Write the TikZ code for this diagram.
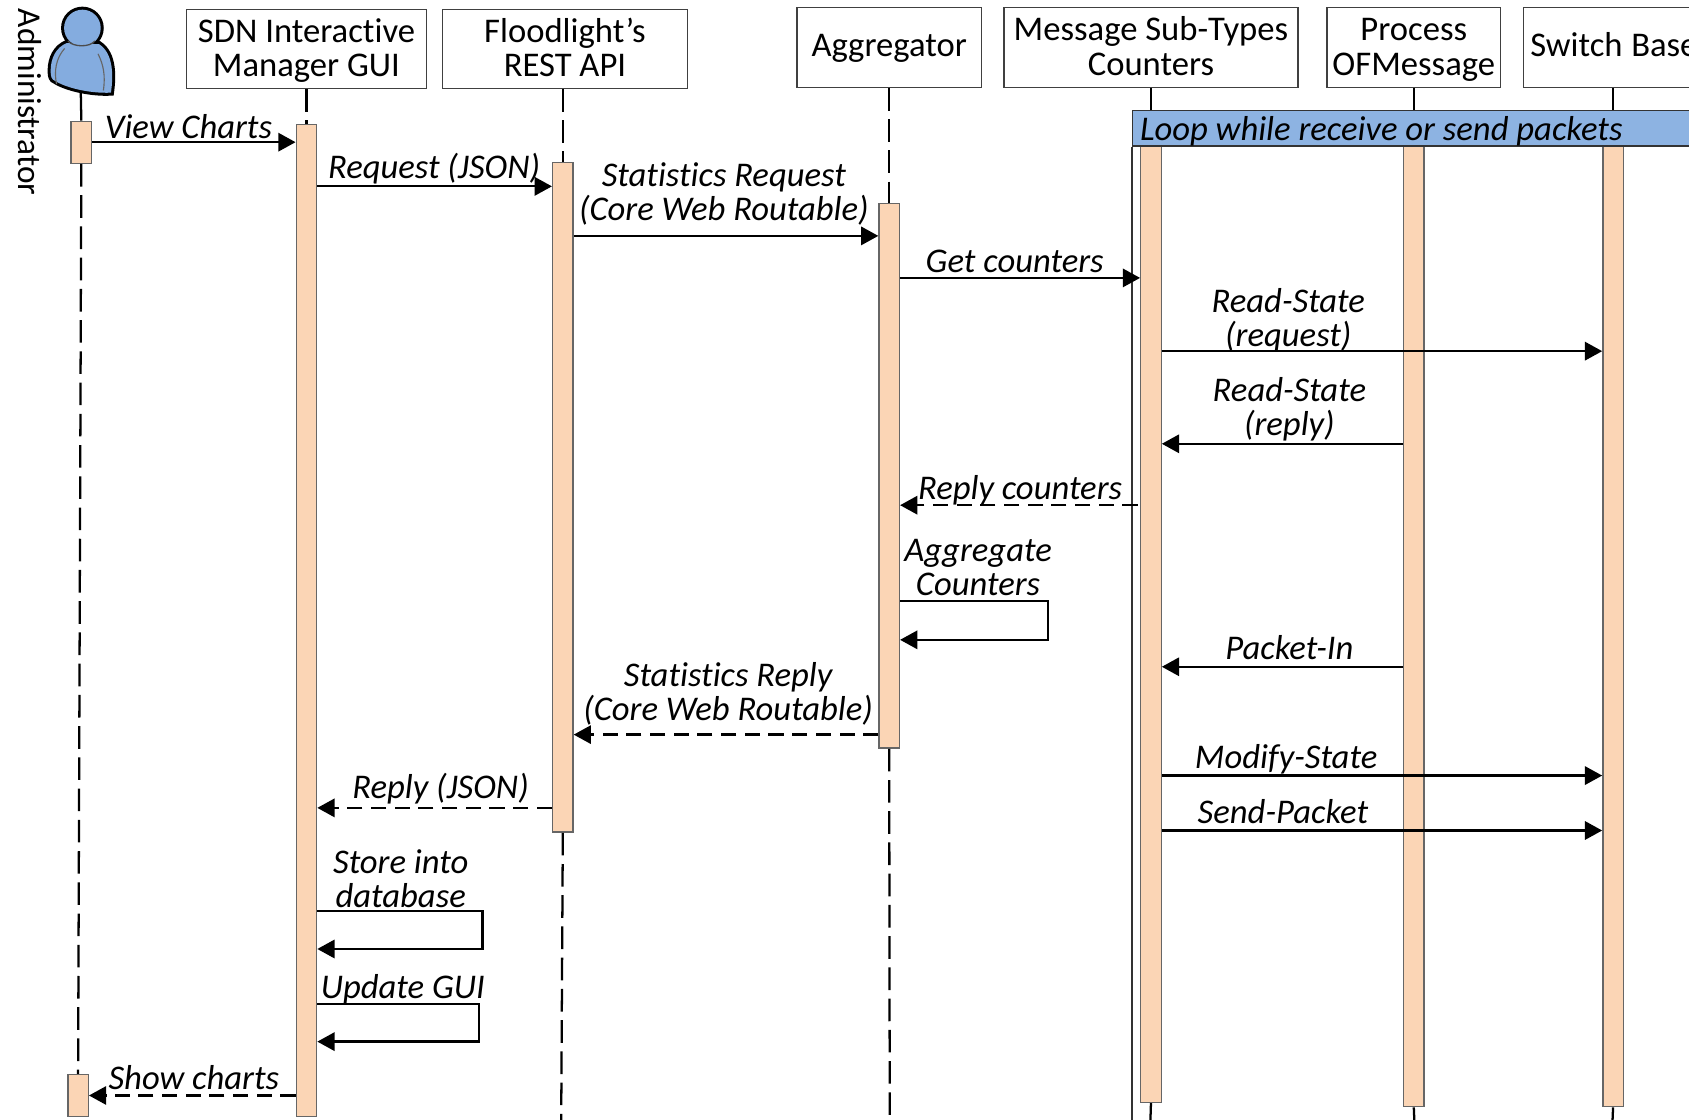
\documentclass[tikz,border=0pt]{standalone}
\usepackage{fontspec}
\setmainfont{Carlito}[Ligatures=NoCommon]
\usepackage{xcolor}
\usetikzlibrary{calc, positioning, arrows.meta, shapes.geometric}
\definecolor{barfill}{HTML}{FBD5B5}
\definecolor{loopfill}{HTML}{8DB3E2}
\definecolor{actorfill}{HTML}{84ACDF}
\newcommand{\hstrut}{\rule[-0.24em]{0pt}{0.98em}}
\newcommand{\hstruttop}{\rule[-0.24em]{0pt}{1.08em}}
\tikzset{
    header/.style={rectangle, draw=black!75, line width=0.7pt, fill=white, align=center, font=\fontsize{18.3}{18.2}\selectfont, inner sep=0pt},
    bar/.style={rectangle, draw=black!60, line width=0.7pt, fill=barfill, minimum width=0.38cm, inner sep=0pt, anchor=north},
    lifeline/.style={line width=1.2pt, dash pattern=on 0.42cm off 0.16cm},
    msg/.style={-{Triangle[length=0.32cm, width=0.34cm]}, line width=1.2pt},
    reply/.style={msg, dash pattern=on 0.28cm off 0.16cm},
    txt/.style={align=center, font=\fontsize{18.3}{18}\itshape\selectfont, inner sep=0pt}
}

\begin{document}
\begin{tikzpicture}[x=0.02cm, y=-0.02cm]
    \useasboundingbox (0,0) rectangle (1568,1039.7);
    \fill[white] (0,0) rectangle (1568,1039.7);

    % Headers
    \node[header, minimum width=4.46cm, minimum height=1.46cm] (gui) at (284.5,45.5) {\hstruttop SDN Interactive\\\hstrut Manager GUI};
    \node[header, minimum width=4.54cm, minimum height=1.46cm] (rest) at (524.5,45.5) {\hstruttop Floodlight’s\\\hstrut REST API};
    \node[header, minimum width=3.42cm, minimum height=1.48cm] (aggr) at (825.5,44) {\hstrut Aggregator};
    \node[header, minimum width=5.46cm, minimum height=1.48cm] (subtypes) at (1068.5,44) {\hstruttop Message Sub-Types\\\hstrut Counters};
    \node[header, minimum width=3.22cm, minimum height=1.48cm] (ofmsg) at (1312.5,44) {\hstruttop Process\\\hstrut OFMessage};
    \node[header, anchor=west, align=left, text width=3.72cm, minimum height=1.48cm, inner xsep=0.12cm] (switch) at (1414,44) {\hstrut Switch\hspace{-1.5pt} Base};
    \node[rotate=-90, anchor=west, inner sep=0pt, font=\fontsize{17.6}{18}\selectfont] (admin) at (28,8) {Administrator};

    % Actor
    \coordinate (actorFoot) at (75,86);
    \draw[line width=3.2pt] (62,40) .. controls (52,44) and (47,54) .. (47,66) .. controls (47,71) and (48,74) .. (51,75) .. controls (62,82) and (85,87) .. (103,86) .. controls (105,72) and (106,50) .. (92,41) -- cycle;
    \draw[line width=3.2pt] (76.5,26) circle (17);
    \fill[actorfill] (62,40) .. controls (52,44) and (47,54) .. (47,66) .. controls (47,71) and (48,74) .. (51,75) .. controls (62,82) and (85,87) .. (103,86) .. controls (105,72) and (106,50) .. (92,41) -- cycle;
    \fill[actorfill] (76.5,26) circle (17);
    \draw[black!60, line width=0.6pt] (60,45) .. controls (52,54) and (50,66) .. (52.5,78) (91,50) .. controls (96,60) and (98,70) .. (96,84);
    \draw[black!70, line width=0.7pt] (63,38) .. controls (68,44) and (84,44) .. (88,38);

    % Lifelines
    \coordinate (endAdmin) at (72,997);
    \coordinate (endRest) at (521,1040);
    \coordinate (endAggr) at (826,1040);
    \coordinate (endSub) at (1068,1040);
    \coordinate (endOf) at (1313,1040);
    \coordinate (endSw) at (1497,1040);
    \node[bar, minimum height=0.78cm] (barAdminA) at (75.5,112) {};
    \node[bar, minimum height=0.78cm] (barAdminB) at (72.5,997) {};
    \node[bar, minimum height=18.42cm] (barGui) at (284.5,115) {};
    \node[bar, minimum height=12.44cm] (barRest) at (522.5,150) {};
    \node[bar, minimum height=10.12cm] (barAggr) at (825.5,188) {};
    \node[bar, minimum height=17.76cm] (barSub) at (1068.5,135) {};
    \node[bar, minimum height=17.84cm] (barOf) at (1312.5,135) {};
    \node[bar, minimum height=17.84cm] (barSw) at (1497.5,135) {};
    \draw[line width=1.2pt] (actorFoot) -- (barAdminA.north);
    \draw[lifeline] (barAdminA.south) -- (barAdminB.north);
    \draw[lifeline] (gui.south) -- (barGui.north);
    \draw[lifeline] (rest.south -| barRest) -- (barRest.north);
    \draw[lifeline] (barRest.south) -- (endRest);
    \draw[lifeline] (aggr.south) -- (barAggr.north);
    \draw[lifeline] (barAggr.south) -- (endAggr);
    \draw[lifeline] (subtypes.south) -- (barSub.north);
    \draw[lifeline] (barSub.south) -- (endSub);
    \draw[lifeline] (ofmsg.south) -- (barOf.north);
    \draw[lifeline] (barOf.south) -- (endOf);
    \draw[lifeline] (switch.south -| barSw) -- (barSw.north);
    \draw[lifeline] (barSw.south) -- (endSw);

    % Loop
    \node[rectangle, draw=black!80, line width=0.7pt, fill=loopfill, anchor=north west, minimum width=11cm, minimum height=0.66cm, inner sep=0pt] (loop) at (1051,102) {};
    \node[txt, anchor=west] (loopText) at (1058,122) {Loop while receive or send packets};
    \coordinate (endLoop) at (1051,1040);
    \draw[black!80, line width=0.7pt] (loop.south west) -- (endLoop);

    % Calls
    \draw[msg] (barAdminA.east |- 0,132) -- (barGui.west |- 0,132);
    \node[txt] (viewCharts) at (175,118) {View Charts};
    \draw[msg] (barGui.east |- 0,173) -- (barRest.west |- 0,173);
    \node[txt] (requestJson) at (403,157) {Request (JSON)};
    \draw[msg] (barRest.east |- 0,219) -- (barAggr.west |- 0,219);
    \node[txt] (statsRequest) at (672,180.5) {Statistics Request\\(Core Web Routable)};
    \draw[msg] (barAggr.east |- 0,258) -- (barSub.west |- 0,258);
    \node[txt] (getCounters) at (942,243) {Get counters};
    \draw[msg] (barSub.east |- 0,326) -- (barSw.west |- 0,326);
    \node[txt] (readRequest) at (1196,297) {Read-State\\(request)};
    \draw[msg] (barOf.west |- 0,412) -- (barSub.east |- 0,412);
    \node[txt] (readReply) at (1197,380) {Read-State\\(reply)};
    \coordinate (replyStart) at (1056,469);
    \draw[reply] (replyStart) -- (barAggr.east |- replyStart);
    \node[txt] (replyCounters) at (947,455) {Reply counters};
    \draw[msg] (barAggr.east |- 0,558) -- (973,558) -- (973,594) -- (barAggr.east |- 0,594);
    \node[txt] (aggregate) at (908,527) {Aggregate\\Counters};
    \draw[msg] (barOf.west |- 0,619) -- (barSub.east |- 0,619);
    \node[txt] (packetIn) at (1197,601) {Packet-In};
    \draw[reply] (barAggr.west |- 0,682) -- (barRest.east |- 0,682);
    \node[txt] (statsReply) at (676,644) {Statistics Reply\\(Core Web Routable)};
    \draw[msg] (barSub.east |- 0,720) -- (barSw.west |- 0,720);
    \node[txt] (modifyState) at (1194,705) {Modify-State};
    \draw[msg] (barSub.east |- 0,771) -- (barSw.west |- 0,771);
    \node[txt] (sendPacket) at (1191,753) {Send-Packet};
    \draw[reply] (barRest.west |- 0,750) -- (barGui.east |- 0,750);
    \node[txt] (replyJson) at (409,732) {Reply (JSON)};
    \draw[msg] (barGui.east |- 0,846) -- (448,846) -- (448,881) -- (barGui.east |- 0,881);
    \node[txt] (storeDb) at (372,816) {Store into\\database};
    \draw[msg] (barGui.east |- 0,932) -- (445,932) -- (445,967) -- (barGui.east |- 0,967);
    \node[txt] (updateGui) at (374,918) {Update GUI};
    \draw[reply] (barGui.west |- 0,1017) -- (barAdminB.east |- 0,1017);
    \node[txt] (showCharts) at (180,1000) {Show charts};
\end{tikzpicture}
\end{document}
